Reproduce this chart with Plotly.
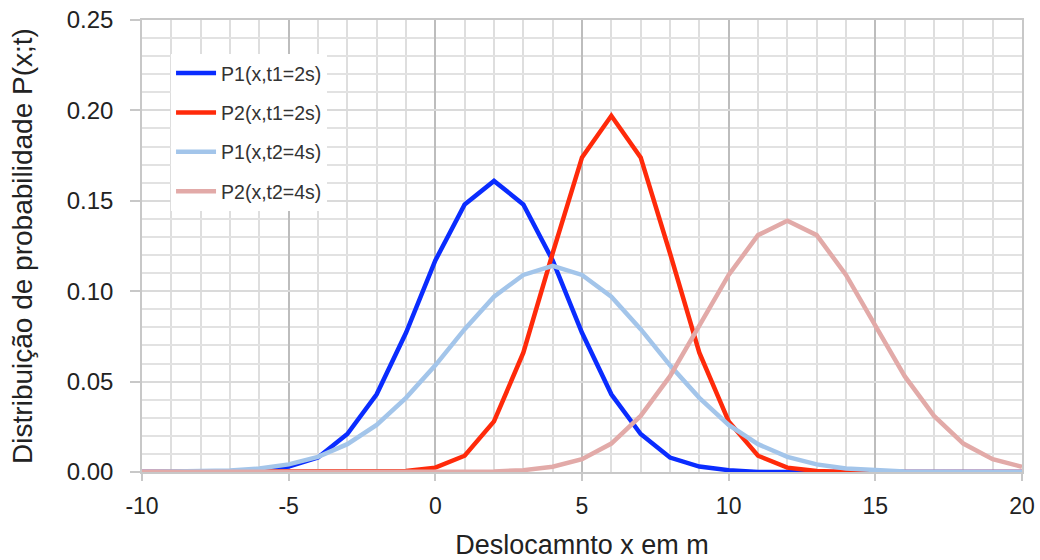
import plotly.graph_objects as go

x_vals = list(range(-10, 21))

x_tick_vals = [-10, -5, 0, 5, 10, 15, 20]
x_tick_text = ["-10", "-5", "0", "5", "10", "15", "20"]

p1_t1 = [0, 0, 0, 0.0001, 0.0009, 0.003, 0.008, 0.021, 0.043, 0.077, 0.117,
         0.148, 0.161, 0.148, 0.117, 0.077, 0.043, 0.021, 0.008, 0.003, 0.001,
         0, 0, 0, 0, 0, 0, 0, 0, 0, 0]
p2_t1 = [0, 0, 0, 0, 0, 0, 0, 0, 0, 0.0005, 0.0024, 0.009, 0.028, 0.066, 0.121,
         0.174, 0.197, 0.174, 0.121, 0.066, 0.028, 0.009, 0.0024, 0.0005,
         0, 0, 0, 0, 0, 0, 0]
p1_t2 = [0, 0.0001, 0.0003, 0.0008, 0.0019, 0.0042, 0.0084, 0.0154, 0.026, 0.041,
         0.059, 0.079, 0.097, 0.109, 0.114, 0.109, 0.097, 0.079, 0.059, 0.041,
         0.026, 0.0154, 0.0084, 0.0042, 0.0019, 0.0008, 0.0003, 0.0001, 0, 0, 0]
p2_t2 = [0, 0, 0, 0, 0, 0, 0, 0, 0, 0, 0, 0, 0.0003, 0.001, 0.0029, 0.0071,
         0.0157, 0.031, 0.053, 0.081, 0.109, 0.131, 0.139, 0.131, 0.109, 0.081,
         0.053, 0.031, 0.0157, 0.0071, 0.0029]

series_names = ["P1(x,t1=2s)", "P2(x,t1=2s)", "P1(x,t2=4s)", "P2(x,t2=4s)"]
series_values = [p1_t1, p2_t1, p1_t2, p2_t2]
series_colors = ["#0a2cff", "#ff2a0a", "#a3c5ea", "#e2aaa8"]

FONT = "Liberation Sans, Arial, sans-serif"

fig = go.Figure()
for i, (name, vals, col) in enumerate(zip(series_names, series_values, series_colors)):
    fig.add_trace(go.Scatter(
        x=x_vals, y=vals, mode="lines", name=name, legendgroup=f"g{i}",
        line=dict(color=col, width=4.5),
    ))

fig.update_layout(
    width=1040, height=560,
    margin=dict(l=142, r=18, t=20, b=88, autoexpand=False),
    plot_bgcolor="white", paper_bgcolor="white",
    font=dict(family=FONT, color="#222222"),
    showlegend=True,
    legend=dict(
        x=0.033, y=0.925, xanchor="left", yanchor="top",
        bgcolor="white", borderwidth=0,
        font=dict(size=19.5, color="#333333"),
        tracegroupgap=11, traceorder="grouped",
        itemwidth=40,
    ),
    xaxis=dict(
        range=[-10, 20], tickmode="array", tickvals=x_tick_vals, ticktext=x_tick_text,
        showgrid=True, gridcolor="#bdbdbd", gridwidth=1.5,
        minor=dict(dtick=1, tick0=0, showgrid=True, gridcolor="#dedede", gridwidth=1.5),
        ticks="outside", ticklen=7, tickcolor="#c8c8c8", tickwidth=1.5,
        ticklabelstandoff=6, ticklabeloverflow="allow",
        showline=True, linecolor="#c8c8c8", linewidth=1.5, mirror=True,
        zeroline=False, automargin=False,
        tickfont=dict(size=23),
        title=dict(text="Deslocamnto x em m", font=dict(size=27), standoff=24),
    ),
    yaxis=dict(
        range=[0, 0.25], dtick=0.05, tick0=0, tickformat=".2f",
        showgrid=True, gridcolor="#dadada", gridwidth=1.5,
        minor=dict(dtick=0.01, showgrid=True, gridcolor="#e2e2e2", gridwidth=1.5),
        ticks="outside", ticklen=10, tickcolor="#c8c8c8", tickwidth=1.5,
        ticklabelstandoff=12, ticklabeloverflow="allow",
        showline=True, linecolor="#c8c8c8", linewidth=1.5, mirror=True,
        zeroline=False, automargin=False,
        tickfont=dict(size=24),
        title=dict(text="Distribuição de probabilidade P(x;t)", font=dict(size=28), standoff=26),
    ),
)

fig.write_html("out.html", config={"displayModeBar": False},
               post_script="document.body.style.margin='0';")
